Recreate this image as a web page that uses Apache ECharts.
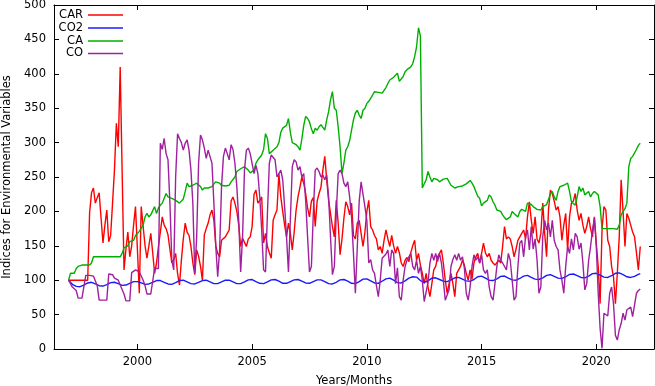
<!DOCTYPE html>
<html><head><meta charset="utf-8">
<script src="https://cdn.jsdelivr.net/npm/echarts@6/dist/echarts.min.js"></script>
<style>html,body{margin:0;padding:0;background:#fff}#c{width:655px;height:386px}</style>
</head><body><div id="c"></div>
<script>
// Monthly data, Jan 1997 .. Dec 2021
const startYear = 1997;
const seriesNames = ['CAR', 'CO2', 'CA', 'CO'];
const xTicks = [2000, 2005, 2010, 2015, 2020];

const CAR = [
  100,100,100,100,100,100,100,100,100,100,100,198,
  227,234,212,220,227,190,154,180,202,156,165,212,
  260,328,294,410,260,115,145,170,134,150,180,207,
  145,81,207,178,150,132,150,168,140,110,125,149,
  170,192,180,175,166,145,125,130,139,110,93,129,
  160,183,170,165,149,125,108,144,135,120,100,166,
  175,183,195,202,187,150,139,134,158,160,163,168,
  173,215,221,212,200,180,149,161,155,149,160,163,
  178,225,231,212,216,221,154,168,149,140,132,187,
  195,202,255,221,200,180,163,183,168,144,170,202,
  221,235,250,241,226,205,192,215,220,178,215,226,
  235,260,280,246,216,216,178,163,216,183,137,160,
  190,214,207,195,212,165,160,183,187,168,149,170,
  200,216,178,173,165,160,144,149,139,158,173,160,
  149,165,150,139,149,140,125,120,129,133,127,140,
  150,158,129,139,122,110,95,110,90,76,95,115,
  120,134,139,144,125,100,81,95,110,95,76,110,
  115,120,129,122,110,100,115,102,125,134,139,125,
  139,154,140,134,139,129,125,122,120,129,125,149,
  178,160,163,160,149,134,145,158,163,168,173,160,
  192,214,187,168,192,160,154,168,212,168,134,202,
  231,226,215,202,207,192,158,180,197,144,192,212,
  215,226,202,187,197,180,168,178,192,175,163,192,
  154,120,66,173,207,202,158,149,120,105,66,110,
  163,246,200,149,197,190,180,170,163,140,115,149
];

const CO2 = [
  100,97,94,92,91,90.5,90.5,91.5,93,95,96,96.5,
  97,96,94.5,93,92,91.5,91.5,92,93.5,95,96.5,97,
  97,96,95,93.5,92.5,92.5,93,94,95.5,97,98,98,
  98,97,96,95,94,94,94.5,95.5,97,98.5,99.5,100,
  99.5,98.5,97,95.5,94.5,94,94,95,96.5,98,99.5,100,
  100,99,97.5,96,95,94.5,94.5,95.5,97,98.5,99.5,100,
  100,99,97.5,96,95,95,95,96,97.5,99,100,100.5,
  100,99,97.5,96,95,95,95,96,97.5,99,100.5,101,
  101,100,98,96.5,95.5,95,95,96,97.5,99,100.5,101,
  101,100,98.5,97,95.5,95,95.5,96.5,98,99.5,100.5,101,
  101,100,98.5,97,96,95.5,95.5,96.5,98,99.5,100.5,100.5,
  100.5,99.5,98,96.5,95,94.5,94.5,95.5,97,99,100.5,101,
  101,100,98.5,97,95.5,95,95,96,98,100,101.5,102,
  102,101,99,97.5,96,95.5,95.5,96.5,98.5,100.5,102,103,
  103,102,100,98,96.5,96,96,97,99,101,103,104,
  105,106,104.5,102,99.5,98,97,97.5,99,101,103,104,
  103.5,102.5,101,99.5,98.5,98,98,99,100.5,102,103.5,104,
  104,103,101.5,100,99,98.5,98.5,99.5,101,103,105,106,
  106,105,103,101,100,99.5,99.5,100.5,102,104,105.5,106,
  106,105,103,101.5,100.5,100,100,101,102.5,104.5,106,107,
  107,106,104,102.5,101.5,101,101,102,103.5,105.5,107,108,
  108,107,105.5,104,103,102.5,102.5,103.5,105,107,108.5,109,
  109,108,106.5,105,104,103.5,103.5,104.5,106,108,109.5,110,
  110,109,107.5,106,104.5,104,104,105,106.5,108.5,110,110.5,
  110.5,109.5,108,106.5,105,104,104,104.5,105.5,107,108.5,109.5
];

const CA = [
  100,110,110,110,117,120,122,122,122,122,122,122,
  125,134,134,134,134,134,134,134,134,134,134,134,
  134,134,134,134,139,147,147,150,156,156,158,165,
  168,171,173,180,192,197,192,195,197,207,197,205,
  209,212,214,226,221,221,219,217,216,214,212,214,
  218,229,241,236,236,238,238,241,241,236,231,234,
  236,234,236,236,240,243,241,241,238,237,237,238,
  238,243,243,250,258,260,262,263,265,263,260,256,
  258,260,270,275,277,282,290,313,306,284,286,289,
  290,294,300,315,321,322,325,335,315,300,299,297,
  294,289,305,325,338,335,330,320,313,321,318,323,
  326,322,318,333,345,362,374,350,347,323,294,255,
  270,289,294,303,318,333,343,347,340,335,347,350,
  357,360,362,369,374,372,373,374,372,376,380,386,
  391,393,395,396,401,389,390,396,403,406,408,410,
  415,425,439,467,455,234,234,246,258,250,243,248,
  250,246,243,241,247,248,248,246,238,236,234,236,
  236,236,237,238,240,242,245,241,236,229,222,219,
  208,212,214,216,224,221,214,209,202,200,200,195,
  191,188,186,192,200,197,195,192,200,203,201,200,
  212,213,210,207,209,203,204,202,207,209,210,212,
  225,229,221,216,229,236,238,238,236,241,229,214,
  212,209,221,236,229,234,224,224,229,221,226,229,
  228,224,207,175,175,175,175,175,175,175,175,174,
  180,195,200,204,212,265,277,280,282,290,296,299
];

const CO = [
  100,95,90,90,85,74,74,74,74,107,107,107,
  107,106,106,92,71,71,71,71,71,109,108,108,
  103,103,100,93,93,80,70,70,70,111,112,115,
  117,112,106,100,92,80,80,80,80,117,117,117,
  299,290,306,284,275,212,129,115,250,313,306,300,
  289,299,304,289,260,212,110,163,270,311,304,292,
  277,289,289,270,212,149,105,144,236,280,292,284,
  275,297,290,270,236,187,112,163,260,289,292,284,
  285,255,267,255,221,173,115,112,197,270,282,280,
  275,250,248,260,246,207,163,112,110,265,275,272,
  260,265,250,255,216,163,112,120,197,260,263,258,
  250,253,246,253,221,163,108,120,197,255,260,255,
  241,236,243,221,192,139,81,79,215,243,241,207,
  187,125,130,115,110,92,76,100,132,134,138,144,
  120,144,139,95,118,76,71,100,120,129,134,139,
  120,115,129,110,120,100,69,67,97,125,139,129,
  139,127,139,125,100,71,71,86,120,130,137,129,
  139,129,134,118,81,71,90,120,137,129,134,125,
  137,115,110,115,90,76,71,95,120,137,129,125,
  125,115,139,129,100,71,76,120,154,158,134,163,
  173,144,178,145,160,130,81,90,163,187,173,183,
  163,187,158,149,144,115,100,81,120,149,139,160,
  144,168,163,145,154,125,86,95,129,149,173,190,
  149,81,30,1,52,52,48,81,90,66,20,13,
  28,37,52,42,57,55,61,47,47,81,85,87
];

const colors = ['#ff0000', '#1a1aff', '#00b000', '#a020a0'];
const values = [CAR, CO2, CA, CO];
const FONT = 'DejaVu Sans';
const FS = 11.5;

function toPairs(arr) { return arr.map((v, i) => [startYear + i / 12, v]); }

const chart = echarts.init(document.getElementById('c'), null, { renderer: 'canvas' });

const legendRowsTop = [9, 22, 35, 47.5];
const legends = seriesNames.map((n, k) => ({
  data: [n], orient: 'vertical', align: 'right', right: 532, top: legendRowsTop[k],
  padding: 0, itemWidth: 35, itemHeight: 1.4, icon: 'rect', selectedMode: false,
  textStyle: { fontFamily: FONT, fontSize: FS, color: '#000', lineHeight: 12 }
}));

const axisLineStyle = { color: '#000', width: 1 };
const xMin = 1996.365, xMax = 2022.515;

chart.setOption({
  animation: false,
  backgroundColor: '#fff',
  legend: legends,
  grid: { left: 54, right: 1, top: 5, bottom: 37, containLabel: false, outerBoundsMode: 'none' },
  xAxis: [
    { type: 'value', min: xMin, max: xMax, position: 'bottom',
      axisLine: { show: true, onZero: false, lineStyle: axisLineStyle },
      axisTick: { show: true, inside: true, length: 5, customValues: xTicks, lineStyle: axisLineStyle },
      axisLabel: { customValues: xTicks, color: '#000', fontFamily: FONT, fontSize: FS, margin: 7,
                   formatter: v => String(Math.round(v)) },
      splitLine: { show: false },
      name: 'Years/Months', nameLocation: 'middle', nameGap: 26,
      nameTextStyle: { fontFamily: FONT, fontSize: FS, color: '#000' } },
    { type: 'value', min: xMin, max: xMax, position: 'top',
      axisLine: { show: true, onZero: false, lineStyle: axisLineStyle },
      axisTick: { show: true, inside: true, length: 5, customValues: xTicks, lineStyle: axisLineStyle },
      axisLabel: { show: false }, splitLine: { show: false } }
  ],
  yAxis: [
    { type: 'value', min: 0, max: 500, interval: 50, position: 'left',
      axisLine: { show: true, onZero: false, lineStyle: axisLineStyle },
      axisTick: { show: true, inside: true, length: 5, lineStyle: axisLineStyle },
      axisLabel: { color: '#000', fontFamily: FONT, fontSize: FS, margin: 8 },
      splitLine: { show: false },
      name: 'Indices for Environmental Variables', nameLocation: 'middle', nameGap: 41,
      nameTextStyle: { fontFamily: FONT, fontSize: FS, color: '#000' } },
    { type: 'value', min: 0, max: 500, interval: 50, position: 'right',
      axisLine: { show: true, onZero: false, lineStyle: axisLineStyle },
      axisTick: { show: true, inside: true, length: 5, lineStyle: axisLineStyle },
      axisLabel: { show: false }, splitLine: { show: false } }
  ],
  series: seriesNames.map((n, k) => ({
    name: n, type: 'line', xAxisIndex: 0, yAxisIndex: 0,
    data: toPairs(values[k]), symbol: 'none', showSymbol: false,
    lineStyle: { width: 1.4, color: colors[k] }, itemStyle: { color: colors[k] },
    z: 2 + k, clip: true
  }))
});
</script></body></html>
